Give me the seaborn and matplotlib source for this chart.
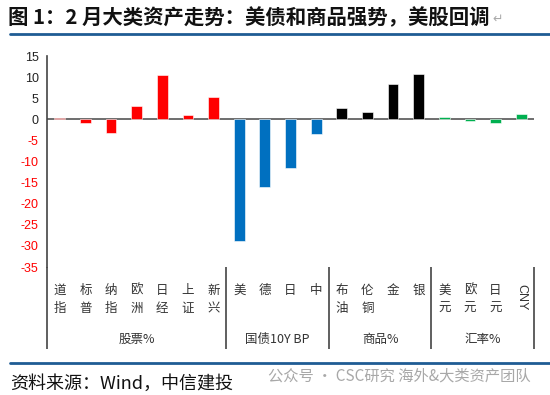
import pandas as pd
import numpy as np
import matplotlib
matplotlib.use('Agg')
import matplotlib.pyplot as plt
import matplotlib.transforms as mtransforms
import seaborn as sns

# data
categories = ['道\n指', '标\n普', '纳\n指', '欧\n洲', '日\n经', '上\n证', '新\n兴',
              '美', '德', '日', '中',
              '布\n油', '伦\n铜', '金', '银',
              '美\n元', '欧\n元', '日\n元', 'CNY']
values = [0.2, -0.8, -3.3, 3.2, 10.4, 1.1, 5.4,
          -28.9, -16.0, -11.5, -3.6,
          2.6, 1.7, 8.3, 10.7,
          0.5, -0.3, -0.8, 1.3]
groups = ['股票'] * 7 + ['国债'] * 4 + ['商品'] * 4 + ['汇率'] * 4
group_labels = ['股票%', '国债10Y BP', '商品%', '汇率%']
group_colors = {'股票': '#FF0000', '国债': '#0070C0', '商品': '#000000', '汇率': '#00B050'}
yticks = [15, 10, 5, 0, -5, -10, -15, -20, -25, -30, -35]

df = pd.DataFrame({'cat': categories, 'val': values, 'grp': groups})

sns.set_style('white')
plt.rcParams['font.family'] = ['Noto Sans CJK SC', 'DejaVu Sans']

fig = plt.figure(figsize=(5.5, 3.95), dpi=100)
ax = fig.add_axes([47 / 550, 1 - 267 / 395, 487 / 550, 211 / 395])

sns.barplot(data=df, x='cat', y='val', hue='grp', palette=group_colors,
            dodge=False, width=0.42, legend=False, ax=ax, saturation=1,
            edgecolor='white', linewidth=0.4)

ax.set_xlim(-0.5, len(categories) - 0.5)
ax.set_ylim(-35, 15)
ax.set_xlabel('')
ax.set_ylabel('')
ax.axhline(0, color='#555555', lw=1.2, zorder=0)

for s in ['top', 'right', 'bottom']:
    ax.spines[s].set_visible(False)
ax.spines['left'].set_color('#444444')
ax.spines['left'].set_linewidth(1.2)

# y ticks, negatives in red
ax.set_yticks(yticks)
ax.set_yticklabels([str(t) for t in yticks], family='Liberation Sans', fontsize=9)
ax.tick_params(axis='y', direction='out', length=4, width=1, color='#444444', pad=2)
for t, lab in zip(yticks, ax.get_yticklabels()):
    lab.set_color('#FF0000' if t < 0 else '#222222')

# category labels
ax.set_xticks(range(len(categories)))
ax.set_xticklabels(categories, fontsize=9, color='#333333', linespacing=1.55)
ax.tick_params(axis='x', length=0, pad=12)
for lab in ax.get_xticklabels():
    if lab.get_text() == 'CNY':
        lab.set_rotation(-90)
        lab.set_family('Liberation Sans')

# group dividers and labels below the axis
trans = mtransforms.blended_transform_factory(ax.transData, ax.transAxes)
bounds = [-0.5, 6.5, 10.5, 14.5, len(categories) - 0.5]
ax.vlines(bounds, -0.39, 0, transform=trans, color='#444444', lw=1.2, clip_on=False)
for i, g in enumerate(group_labels):
    ax.text((bounds[i] + bounds[i + 1]) / 2, -0.345, g, transform=trans,
            ha='center', va='center', fontsize=9, color='#333333')

# title and frame lines
fig.text(8 / 550, 1 - 18 / 395, '图 1：2 月大类资产走势：美债和商品强势，美股回调',
         fontsize=14.7, fontweight='bold', color='#111111', va='center')
fig.text(492 / 550, 1 - 19 / 395, '↵', fontsize=9, color='#AAAAAA', va='center')
fig.add_artist(plt.Line2D([10 / 550, 1], [1 - 34 / 395] * 2, color='#1F5C94', lw=2))
fig.add_artist(plt.Line2D([10 / 550, 1], [1 - 363 / 395] * 2, color='#1F5C94', lw=2))

fig.text(10 / 550, 1 - 384 / 395, '资料来源：Wind，中信建投', fontsize=13,
         style='italic', color='#111111', va='center')
fig.text(268 / 550, 1 - 376 / 395, '公众号 · CSC研究 海外&大类资产团队', fontsize=11,
         color='#A8A8A8', va='center')

fig.savefig('out.png', dpi=100)
